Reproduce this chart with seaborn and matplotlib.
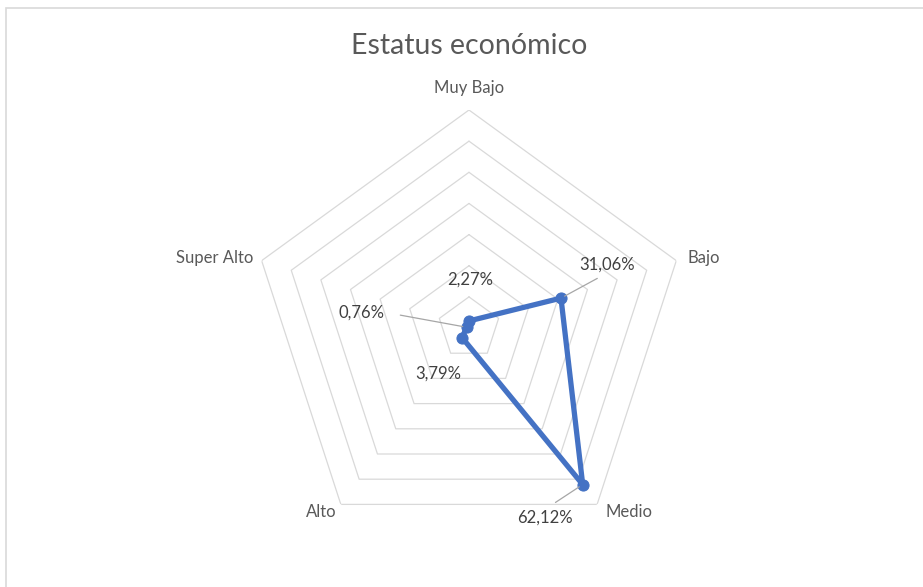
import numpy as np
import pandas as pd
import matplotlib.pyplot as plt
import seaborn as sns
from matplotlib.patches import Rectangle

categorias = ['Muy Bajo', 'Bajo', 'Medio', 'Alto', 'Super Alto']
valores = [0.0227, 0.3106, 0.6212, 0.0379, 0.0076]
etiquetas = ['2,27%', '31,06%', '62,12%', '3,79%', '0,76%']
niveles = [0.1, 0.2, 0.3, 0.4, 0.5, 0.6, 0.7]

sns.set_style('white')
plt.rcParams['font.family'] = ['Lato', 'DejaVu Sans']

n = len(categorias)
theta = np.arange(n) * 2 * np.pi / n

# cerrar el poligono
df = pd.DataFrame({'theta': np.append(theta, theta[0]),
                   'valor': valores + [valores[0]]})

fig = plt.figure(figsize=(9.23, 5.87), dpi=100)
fig.patches.append(Rectangle((6 / 923, -0.1), 1.2, (587 - 8) / 587 + 0.1,
                             transform=fig.transFigure, fill=False,
                             edgecolor='#d9d9d9', lw=1.2))

ax = fig.add_axes([0.2719, 0.0698, 0.4724, 0.7428], projection='polar')
ax.set_theta_zero_location('N')
ax.set_theta_direction(-1)
ax.set_ylim(0, 0.7)
ax.grid(False)
ax.spines['polar'].set_visible(False)
ax.set_xticks([])
ax.set_yticks([])
ax.patch.set_alpha(0)

# anillos pentagonales
th_c = np.append(theta, theta[0])
for nv in niveles:
    ax.plot(th_c, [nv] * (n + 1), color='#d9d9d9', lw=0.9, zorder=1)

sns.lineplot(data=df, x='theta', y='valor', sort=False, ax=ax,
             color='#4472C4', lw=3.8, marker='o', markersize=8,
             markeredgecolor='#4472C4', zorder=3)
ax.set_xlabel('')
ax.set_ylabel('')

px = 0.72  # pixeles -> puntos

# etiquetas de categorias (desplazamiento en pixeles desde el vertice exterior)
cat_pos = [(0, 22, 'center'), (11, 3, 'left'), (8, -8, 'left'),
           (-4, -8, 'right'), (-8, 3, 'right')]
for t, c, (dx, dy, ha) in zip(theta, categorias, cat_pos):
    ax.annotate(c, xy=(t, 0.7), xytext=(dx * px, dy * px), textcoords='offset points',
                ha=ha, va='center', fontsize=12, color='#595959')

# etiquetas de datos
offs = [(1, 41, None, 0), (46, 33, (0.5, 0.0), 3), (-38, -33, (0.5, 1.0), 5),
        (-24, -36, None, 0), (-105, 15, (1.0, 0.5), 9)]
for t, v, e, (dx, dy, rp, sa) in zip(theta, valores, etiquetas, offs):
    props = None
    if rp is not None:
        props = dict(arrowstyle='-', color='#a6a6a6', lw=0.9,
                     shrinkA=sa, shrinkB=3, relpos=rp)
    ax.annotate(e, xy=(t, v), xytext=(dx * px, dy * px), textcoords='offset points',
                ha='center', va='center', fontsize=12, color='#404040',
                arrowprops=props, zorder=4)

fig.text(469 / 923, 1 - 46 / 587, 'Estatus económico', ha='center', va='center',
         fontsize=20.5, color='#595959')

plt.savefig('out.png', dpi=100)
